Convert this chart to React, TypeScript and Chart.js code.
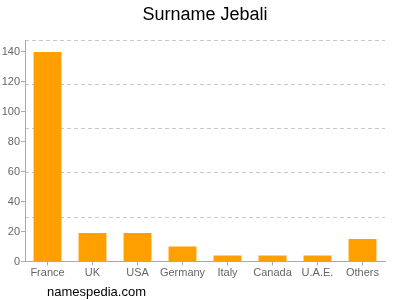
import React, { useEffect, useRef } from "react";
import { Chart, registerables } from "chart.js";

Chart.register(...registerables);

const categories = ["France", "UK", "USA", "Germany", "Italy", "Canada", "U.A.E.", "Others"];
const values = [140, 19, 19, 10, 4, 4, 4, 15];
const yTicks = [0, 20, 40, 60, 80, 100, 120, 140];
const titleText = "Surname Jebali";
const footerText = "namespedia.com";

const FONT = "'Liberation Sans', Arial, Helvetica, sans-serif";

const textPlugin = {
  id: "texts",
  afterDraw(chart: any) {
    const ctx = chart.ctx;
    ctx.save();
    ctx.fillStyle = "#000";
    ctx.textAlign = "center";
    ctx.textBaseline = "middle";
    ctx.font = `18px ${FONT}`;
    const ca = chart.chartArea;
    ctx.fillText(titleText, (ca.left + ca.right) / 2, 15);
    ctx.textAlign = "left";
    ctx.font = `13px ${FONT}`;
    ctx.fillText(footerText, 47, 292);
    ctx.restore();
  },
};

export default function App() {
  const ref = useRef<HTMLCanvasElement>(null);
  useEffect(() => {
    if (!ref.current) return;
    const chart = new Chart(ref.current, {
      type: "bar",
      data: {
        labels: categories,
        datasets: [
          {
            data: values,
            backgroundColor: "#ffa000",
            borderWidth: 0,
            barPercentage: 0.62,
            categoryPercentage: 1,
          },
        ],
      },
      options: {
        animation: false,
        responsive: false,
        maintainAspectRatio: false,
        layout: { padding: { left: 0, right: 15, top: 40, bottom: 0 } },
        plugins: { legend: { display: false }, title: { display: false }, tooltip: { enabled: false } },
        scales: {
          x: {
            afterFit: (s: any) => {
              s.height = 38.5;
            },
            border: { color: "#aaa" },
            grid: { display: true, drawOnChartArea: false, offset: false, tickLength: 4, color: "#aaa" },
            ticks: {
              color: "#666",
              font: { family: FONT, size: 11 },
              padding: 1,
              maxRotation: 0,
              minRotation: 0,
              autoSkip: false,
            },
          },
          y: {
            min: 0,
            max: 148,
            afterFit: (s: any) => {
              s.width = 25;
            },
            afterBuildTicks: (s: any) => {
              s.ticks = yTicks.map((v) => ({ value: v }));
            },
            border: { color: "#aaa" },
            grid: { display: true, drawOnChartArea: false, tickLength: 4, color: "#aaa" },
            ticks: { color: "#666", font: { family: FONT, size: 11 }, padding: 1 },
          },
          y2: {
            position: "left",
            min: 0,
            max: 5,
            afterFit: (s: any) => {
              s.width = 0;
            },
            border: { display: false, dash: [4, 3] },
            ticks: { display: false, stepSize: 1 },
            grid: { drawTicks: false, color: "#c8c8c8", lineWidth: 1, borderDash: [4, 3] },
          },
        },
      } as any,
      plugins: [textPlugin],
    });
    return () => chart.destroy();
  }, []);
  return (
    <div style={{ position: "fixed", left: 0, top: 0, width: 400, height: 300 }}>
      <canvas ref={ref} width={400} height={300} style={{ width: 400, height: 300 }} />
    </div>
  );
}
